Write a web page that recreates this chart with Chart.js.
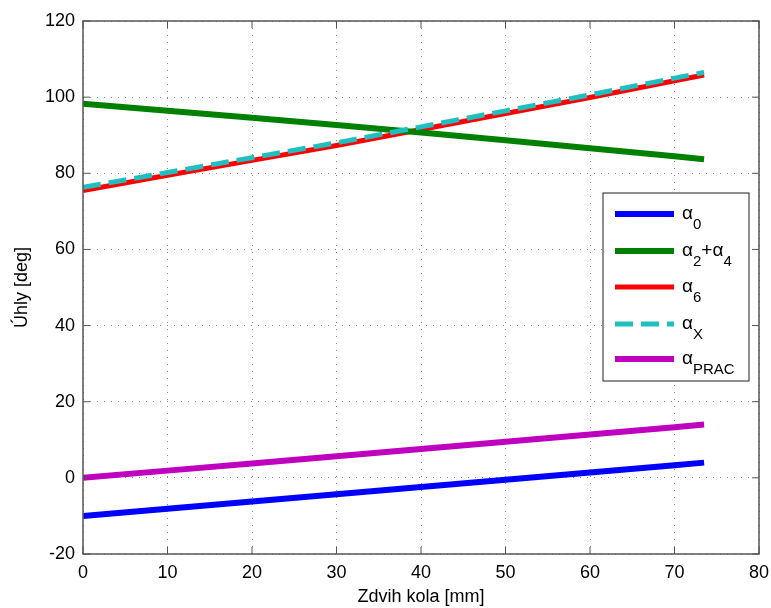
<!DOCTYPE html>
<html>
<head>
<meta charset="utf-8">
<script src="https://cdn.jsdelivr.net/npm/chart.js@4.4.1/dist/chart.umd.min.js"></script>
<style>
  html, body { margin: 0; padding: 0; background: #fff; }
  #wrap { width: 771px; height: 608px; }
</style>
</head>
<body>
<div id="wrap"><canvas id="myChart"></canvas></div>
<script>
// zdvih kola [mm]
const zdvih = [0, 10, 20, 30, 40, 50, 60, 70, 73.5];
// uhly [deg]
const alpha0    = [-10.0, -8.1, -6.2, -4.3, -2.4, -0.5, 1.4, 3.3, 4.0];
const alpha24   = [98.3, 96.4, 94.6, 92.7, 90.7, 88.7, 86.6, 84.5, 83.7];
const alpha6    = [75.5, 79.5, 83.4, 87.3, 91.5, 95.7, 99.9, 104.3, 105.8];
const alphaX    = [76.3, 80.2, 84.1, 88.0, 92.2, 96.4, 100.6, 105.0, 106.5];
const alphaPrac = [0.0, 1.9, 3.8, 5.7, 7.6, 9.5, 11.4, 13.3, 14.0];

const legendLabels = ['α_{0}', 'α_{2}+α_{4}', 'α_{6}', 'α_{X}', 'α_{PRAC}'];
const xTicks = [0, 10, 20, 30, 40, 50, 60, 70, 80];
const yTicks = [-20, 0, 20, 40, 60, 80, 100, 120];

const FONT = '"Liberation Sans", Arial, Helvetica, sans-serif';

function pts(ys) {
    return zdvih.map((x, i) => ({ x: x, y: ys[i] }));
}

// box, inward ticks (MATLAB style) and the legend with subscripts
const matlabBox = {
    id: 'matlabBox',
    afterDraw(chart) {
        const ctx = chart.ctx;
        const a = chart.chartArea;
        const xs = chart.scales.x, ys = chart.scales.y;
        ctx.save();
        ctx.strokeStyle = '#555';
        ctx.lineWidth = 1.5;
        ctx.setLineDash([]);
        ctx.strokeRect(a.left, a.top, a.right - a.left, a.bottom - a.top);
        ctx.beginPath();
        xTicks.forEach(v => {
            const px = xs.getPixelForValue(v);
            ctx.moveTo(px, a.bottom); ctx.lineTo(px, a.bottom - 7);
            ctx.moveTo(px, a.top); ctx.lineTo(px, a.top + 7);
        });
        yTicks.forEach(v => {
            const py = ys.getPixelForValue(v);
            ctx.moveTo(a.left, py); ctx.lineTo(a.left + 7, py);
            ctx.moveTo(a.right, py); ctx.lineTo(a.right - 7, py);
        });
        ctx.lineWidth = 1;
        ctx.stroke();

        // legenda
        const lx = 603, ly = 193, lw = 146, lh = 188;
        ctx.fillStyle = '#fff';
        ctx.fillRect(lx, ly, lw, lh);
        ctx.strokeStyle = '#444';
        ctx.lineWidth = 1.2;
        ctx.strokeRect(lx, ly, lw, lh);
        const rows = [214, 251, 287, 324, 359];
        chart.data.datasets.forEach((ds, i) => {
            const y = rows[ds.legendIndex];
            ctx.beginPath();
            ctx.strokeStyle = ds.borderColor;
            ctx.lineWidth = ds.borderWidth;
            ctx.setLineDash(ds.borderDash || []);
            ctx.moveTo(615, y); ctx.lineTo(674, y);
            ctx.stroke();
            ctx.setLineDash([]);
            // text with subscripts
            let tx = 682;
            ctx.fillStyle = '#000';
            ctx.textBaseline = 'alphabetic';
            const parts = legendLabels[ds.legendIndex].split(/(_\{[^}]*\})/).filter(s => s);
            parts.forEach(p => {
                if (p.startsWith('_{')) {
                    const s = p.slice(2, -1);
                    ctx.font = '15px ' + FONT;
                    ctx.fillText(s, tx, y + 15);
                    tx += ctx.measureText(s).width;
                } else {
                    ctx.font = '19px ' + FONT;
                    ctx.fillText(p, tx, y + 5);
                    tx += ctx.measureText(p).width;
                }
            });
        });
        ctx.restore();
    }
};

const ctx = document.getElementById('myChart').getContext('2d');
const myChart = new Chart(ctx, {
    type: 'line',
    data: {
        datasets: [
            { label: 'alpha0', data: pts(alpha0), borderColor: '#0000ff', borderWidth: 6, legendIndex: 0, order: 2 },
            { label: 'alpha2+alpha4', data: pts(alpha24), borderColor: '#008000', borderWidth: 6, legendIndex: 1, order: 2 },
            { label: 'alpha6', data: pts(alpha6), borderColor: '#ff0000', borderWidth: 5, legendIndex: 2, order: 2 },
            { label: 'alphaX', data: pts(alphaX), borderColor: '#1fbfbf', borderWidth: 5, borderDash: [18, 8], legendIndex: 3, order: 1 },
            { label: 'alphaPRAC', data: pts(alphaPrac), borderColor: '#bf00bf', borderWidth: 6, legendIndex: 4, order: 2 }
        ]
    },
    options: {
        responsive: true,
        maintainAspectRatio: false,
        animation: false,
        elements: { point: { radius: 0 }, line: { tension: 0, borderCapStyle: 'butt' } },
        layout: { padding: { left: 0, top: 21, right: 12, bottom: 0 } },
        plugins: {
            legend: { display: false },
            tooltip: { enabled: false }
        },
        scales: {
            x: {
                type: 'linear',
                min: 0, max: 80,
                afterFit: s => { s.height = 54; s.paddingLeft = 0; s.paddingRight = 0; },
                afterBuildTicks: s => { s.ticks = xTicks.map(v => ({ value: v })); },
                grid: { color: '#888', lineWidth: 1, drawTicks: false },
                border: { display: false, dash: [1, 6] },
                ticks: { color: '#000', font: { family: FONT, size: 18 }, padding: 8, maxRotation: 0 },
                title: { display: true, text: 'Zdvih kola [mm]', color: '#000', font: { family: FONT, size: 18 }, padding: { top: 0, bottom: 0 } }
            },
            y: {
                type: 'linear',
                min: -20, max: 120,
                afterFit: s => { s.width = 83; s.paddingTop = 0; s.paddingBottom = 0; },
                afterBuildTicks: s => { s.ticks = yTicks.map(v => ({ value: v })); },
                grid: { color: '#888', lineWidth: 1, drawTicks: false },
                border: { display: false, dash: [1, 6] },
                ticks: { color: '#000', font: { family: FONT, size: 18 }, padding: 8 },
                title: { display: true, text: 'Úhly [deg]', color: '#000', font: { family: FONT, size: 18 }, padding: { top: 11, bottom: 0 } }
            }
        }
    },
    plugins: [matlabBox]
});
</script>
</body>
</html>
